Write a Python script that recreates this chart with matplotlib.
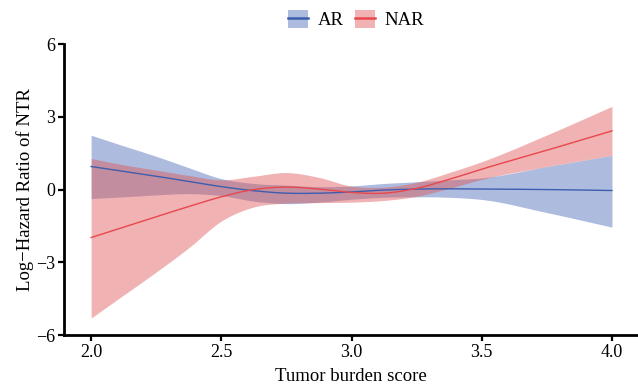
import numpy as np
import matplotlib.pyplot as plt
from matplotlib.patches import Patch
from matplotlib.lines import Line2D

plt.rcParams["font.family"] = ["Liberation Serif", "DejaVu Serif"]

# ---------------- DATA ---------------- #

x_knots = [2.0, 2.125, 2.25, 2.375, 2.5, 2.625, 2.75, 2.875,
           3.0, 3.125, 3.25, 3.375, 3.5, 3.75, 4.0]

ar_fit = [0.95, 0.75, 0.55, 0.33, 0.12, -0.05, -0.15, -0.15,
          -0.10, -0.02, 0.02, 0.03, 0.02, 0.00, -0.04]
ar_upper = [2.24, 1.80, 1.37, 0.90, 0.45, 0.25, 0.18, 0.12,
            0.15, 0.25, 0.32, 0.40, 0.48, 0.95, 1.41]
ar_lower = [-0.37, -0.30, -0.22, -0.17, -0.25, -0.48, -0.58, -0.52,
            -0.40, -0.32, -0.30, -0.32, -0.41, -0.95, -1.55]

nar_fit = [-1.98, -1.55, -1.12, -0.70, -0.30, 0.00, 0.10, 0.02,
           -0.12, -0.15, 0.05, 0.42, 0.84, 1.62, 2.42]
nar_upper = [1.28, 1.02, 0.80, 0.58, 0.40, 0.55, 0.70, 0.50,
             0.14, 0.10, 0.30, 0.70, 1.15, 2.25, 3.43]
nar_lower = [-5.30, -4.35, -3.40, -2.40, -1.30, -0.72, -0.56, -0.54,
             -0.52, -0.45, -0.28, 0.05, 0.42, 0.95, 1.41]

AR_COLOR = "#3D5DAE"
AR_FILL = "#4B68B6"
NAR_COLOR = "#E8474B"
NAR_FILL = "#DE5656"


def smooth(xk, yk, n=300):
    # cubic hermite through the read points
    xk = np.asarray(xk, float)
    yk = np.asarray(yk, float)
    xs = np.linspace(xk[0], xk[-1], n)
    m = np.gradient(yk, xk)
    ys = np.empty_like(xs)
    for j, x in enumerate(xs):
        i = min(np.searchsorted(xk, x, side="right") - 1, len(xk) - 2)
        h = xk[i + 1] - xk[i]
        t = (x - xk[i]) / h
        h00 = 2 * t**3 - 3 * t**2 + 1
        h10 = t**3 - 2 * t**2 + t
        h01 = -2 * t**3 + 3 * t**2
        h11 = t**3 - t**2
        ys[j] = h00 * yk[i] + h10 * h * m[i] + h01 * yk[i + 1] + h11 * h * m[i + 1]
    return xs, ys


# ---------------- PLOT ---------------- #

fig = plt.figure(figsize=(6.38, 3.90), dpi=100)
ax = fig.add_axes([0.100, 0.141, 0.900, 0.746])

xs, ar_lo = smooth(x_knots, ar_lower)
_, ar_hi = smooth(x_knots, ar_upper)
_, ar_y = smooth(x_knots, ar_fit)
_, nar_lo = smooth(x_knots, nar_lower)
_, nar_hi = smooth(x_knots, nar_upper)
_, nar_y = smooth(x_knots, nar_fit)

ax.fill_between(xs, ar_lo, ar_hi, color=AR_FILL, alpha=0.45, linewidth=0)
ax.plot(xs, ar_y, color=AR_COLOR, linewidth=1.0)
ax.fill_between(xs, nar_lo, nar_hi, color=NAR_FILL, alpha=0.45, linewidth=0)
ax.plot(xs, nar_y, color=NAR_COLOR, linewidth=1.0)

ax.set_xlim(1.895, 4.10)
ax.set_ylim(-6, 6)
ax.set_xticks([2.0, 2.5, 3.0, 3.5, 4.0])
ax.set_xticklabels(["2.0", "2.5", "3.0", "3.5", "4.0"])
ax.set_yticks([-6, -3, 0, 3, 6])
ax.set_yticklabels(["\u22126", "\u22123", "0", "3", "6"])

for side in ["top", "right"]:
    ax.spines[side].set_visible(False)
for side in ["left", "bottom"]:
    ax.spines[side].set_linewidth(2.0)
ax.tick_params(axis="both", direction="out", length=4, width=1.6,
               labelsize=13, colors="black", pad=2.5)

ax.set_xlabel("Tumor burden score", fontsize=13.5, labelpad=5)
ax.set_ylabel("Log\u2212Hazard Ratio of NTR", fontsize=13.5, labelpad=1)

handles = [
    (Patch(facecolor=AR_FILL, alpha=0.45), Line2D([], [], color=AR_COLOR, linewidth=1.8)),
    (Patch(facecolor=NAR_FILL, alpha=0.45), Line2D([], [], color=NAR_COLOR, linewidth=1.8)),
]
fig.legend(handles, ["AR", "NAR"], loc="center", bbox_to_anchor=(0.558, 0.950),
           ncol=2, frameon=False, fontsize=13.5, handlelength=1.1, handleheight=1.1,
           handletextpad=0.5, columnspacing=0.6)

fig.savefig("out.png", dpi=100)
plt.close(fig)
